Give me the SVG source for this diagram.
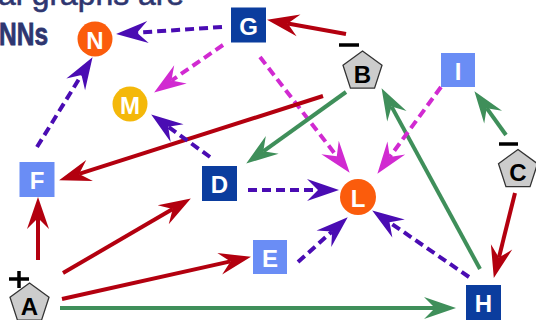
<svg xmlns="http://www.w3.org/2000/svg" width="536" height="320" viewBox="0 0 536 320">
  <defs>
    <style>
      .title { font-family: "Liberation Sans", Arial, sans-serif; fill: #2e3670; }
      .lbl { font-family: "Liberation Sans", Arial, sans-serif; font-weight: bold; font-size: 24px; text-anchor: middle; dominant-baseline: central; }
      .w { fill: #ffffff; }
      .k { fill: #000000; }
      .dark { fill: #0b3d9e; }
      .light { fill: #6a8df5; }
      .orange { fill: #fb5c0c; }
      .yellow { fill: #f4b80a; }
      .pent { fill: #cccccc; stroke: #333333; stroke-width: 1.3; }
      .sign { stroke: #000000; stroke-width: 3.5; }
      .e { fill: none; stroke-width: 4; }
      .dash { stroke-dasharray: 9 5; }
      .red { stroke: #b3000f; marker-end: url(#ah-red); }
      .green { stroke: #3f8f5a; marker-end: url(#ah-green); }
      .purple { stroke: #4a0cb3; marker-end: url(#ah-purple); }
      .magenta { stroke: #d12ad1; marker-end: url(#ah-magenta); }
    </style>
    <!-- barbed arrowheads: reference point is the notch, tip sits ahead of it -->
    <marker id="ah-red" viewBox="-13 -12 36 24" refX="0" refY="0" markerWidth="36" markerHeight="24" markerUnits="userSpaceOnUse" orient="auto">
      <path d="M0,0 L-11,-11 L21,0 L-11,11 Z" fill="#b3000f"/>
    </marker>
    <marker id="ah-green" viewBox="-13 -12 36 24" refX="0" refY="0" markerWidth="36" markerHeight="24" markerUnits="userSpaceOnUse" orient="auto">
      <path d="M0,0 L-11,-11 L21,0 L-11,11 Z" fill="#3f8f5a"/>
    </marker>
    <marker id="ah-purple" viewBox="-13 -12 36 24" refX="0" refY="0" markerWidth="36" markerHeight="24" markerUnits="userSpaceOnUse" orient="auto">
      <path d="M0,0 L-11,-11 L21,0 L-11,11 Z" fill="#4a0cb3"/>
    </marker>
    <marker id="ah-magenta" viewBox="-13 -12 36 24" refX="0" refY="0" markerWidth="36" markerHeight="24" markerUnits="userSpaceOnUse" orient="auto">
      <path d="M0,0 L-11,-11 L21,0 L-11,11 Z" fill="#d12ad1"/>
    </marker>
    <polygon id="pentagon" points="0,-20.5 19.5,-6.33 12.05,16.58 -12.05,16.58 -19.5,-6.33"/>
  </defs>

  <rect width="536" height="320" fill="#ffffff"/>

  <!-- heading -->
  <g id="heading">
    <text class="title" x="-2" y="5" font-size="32" textLength="186" lengthAdjust="spacingAndGlyphs" stroke="#2e3670" stroke-width="0.6">al graphs are</text>
    <text class="title" x="48" y="45" font-size="32" font-weight="bold" text-anchor="end" textLength="49" lengthAdjust="spacingAndGlyphs" stroke="#2e3670" stroke-width="0.8">NNs</text>
  </g>

  <!-- connectors -->
  <g id="edges">
    <line class="e dash purple" x1="222" y1="27" x2="137" y2="32.7"/>
    <line class="e red" x1="346" y1="34" x2="287.7" y2="23.5"/>
    <line class="e dash magenta" x1="223" y1="45" x2="171.4" y2="80.6"/>
    <line class="e dash magenta" x1="260" y1="57" x2="336.8" y2="156.2"/>
    <line class="e red" x1="323" y1="96" x2="79.1" y2="173.9"/>
    <line class="e green" x1="346" y1="92" x2="263.3" y2="151.3"/>
    <line class="e green" x1="480" y1="269" x2="391.6" y2="106.6"/>
    <line class="e dash magenta" x1="441" y1="87" x2="389.8" y2="156.9"/>
    <line class="e green" x1="506" y1="135" x2="486.7" y2="108.2"/>
    <line class="e red" x1="515" y1="193" x2="498.9" y2="257.6"/>
    <line class="e dash purple" x1="37" y1="147" x2="81.5" y2="75"/>
    <line class="e dash purple" x1="210" y1="157" x2="168.2" y2="126.7"/>
    <line class="e dash purple" x1="248" y1="190" x2="318" y2="190"/>
    <line class="e dash purple" x1="298" y1="262" x2="332.1" y2="231.4"/>
    <line class="e dash purple" x1="469" y1="277" x2="389.5" y2="222.3"/>
    <line class="e red" x1="38" y1="260" x2="38" y2="218"/>
    <line class="e red" x1="63" y1="273" x2="172.7" y2="209.1"/>
    <line class="e red" x1="62" y1="299" x2="230.5" y2="261.4"/>
    <line class="e green" x1="60" y1="308" x2="435" y2="308"/>
  </g>

  <!-- nodes -->
  <g id="node-N">
    <circle class="orange" cx="95" cy="39" r="17.5"/>
    <text class="lbl w" x="95" y="40">N</text>
  </g>
  <g id="node-G">
    <rect class="dark" x="231" y="7.5" width="35" height="35"/>
    <text class="lbl w" x="248.5" y="26">G</text>
  </g>
  <g id="node-B">
    <line class="sign" x1="339" y1="45" x2="359" y2="45"/>
    <use href="#pentagon" class="pent" x="362.5" y="71.5"/>
    <text class="lbl k" x="362.5" y="74">B</text>
  </g>
  <g id="node-I">
    <rect class="light" x="441" y="53" width="34" height="34"/>
    <text class="lbl w" x="458" y="71">I</text>
  </g>
  <g id="node-M">
    <circle class="yellow" cx="130" cy="104" r="17.5"/>
    <text class="lbl w" x="130" y="105">M</text>
  </g>
  <g id="node-C">
    <line class="sign" x1="499" y1="144" x2="518" y2="144"/>
    <use href="#pentagon" class="pent" x="518" y="170"/>
    <text class="lbl k" x="518" y="172.5">C</text>
  </g>
  <g id="node-F">
    <rect class="light" x="19.5" y="162" width="35" height="35"/>
    <text class="lbl w" x="37" y="180.5">F</text>
  </g>
  <g id="node-D">
    <rect class="dark" x="202" y="166" width="35" height="35"/>
    <text class="lbl w" x="219.5" y="184.5">D</text>
  </g>
  <g id="node-L">
    <circle class="orange" cx="358" cy="197" r="18"/>
    <text class="lbl w" x="358" y="198">L</text>
  </g>
  <g id="node-E">
    <rect class="light" x="253" y="240" width="34" height="34"/>
    <text class="lbl w" x="270" y="258">E</text>
  </g>
  <g id="node-H">
    <rect class="dark" x="466" y="285" width="35" height="35"/>
    <text class="lbl w" x="483.5" y="303">H</text>
  </g>
  <g id="node-A">
    <line class="sign" x1="9" y1="279" x2="29" y2="279"/>
    <line class="sign" x1="19" y1="271" x2="19" y2="288"/>
    <use href="#pentagon" class="pent" x="29.5" y="303.5"/>
    <text class="lbl k" x="29.5" y="306">A</text>
  </g>
</svg>
